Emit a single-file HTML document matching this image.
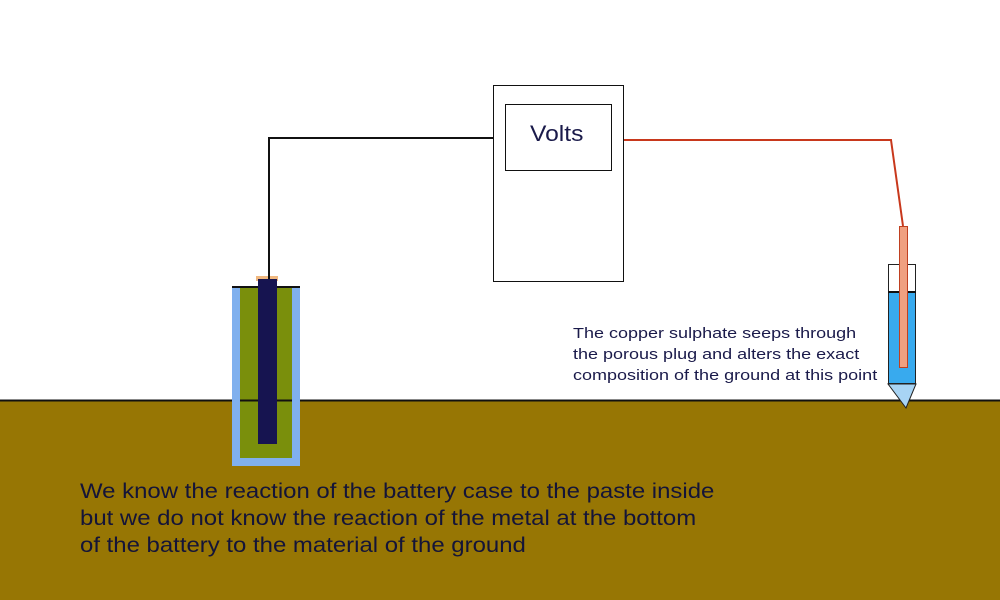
<!DOCTYPE html>
<html><head><style>
html,body{margin:0;padding:0;background:#fff}
body{width:1000px;height:600px;position:relative;overflow:hidden;font-family:"Liberation Sans",sans-serif}
.t{position:absolute;color:#1a1a4a;white-space:nowrap;transform-origin:0 0}
</style></head><body>
<svg width="1000" height="600" style="position:absolute;left:0;top:0">
<rect x="0" y="400" width="1000" height="200" fill="#977604"/>
<line x1="0" y1="400.5" x2="1000" y2="400.5" stroke="#111" stroke-width="2"/>
<rect x="232" y="287" width="68" height="179" fill="#80b0ee"/>
<rect x="240" y="287" width="52" height="171" fill="#7a8f0c"/>
<line x1="240" y1="400.5" x2="292" y2="400.5" stroke="#111" stroke-width="2"/>
<line x1="232" y1="287" x2="300" y2="287" stroke="#111" stroke-width="2"/>
<rect x="256" y="276" width="22" height="5" fill="#f0b880"/>
<rect x="258" y="279" width="19" height="165" fill="#161450"/>
<polyline points="269,279 269,138 493,138" fill="none" stroke="#111" stroke-width="2"/>
<polyline points="624,140 891,140 903,226" fill="none" stroke="#c8381c" stroke-width="2"/>
<rect x="493.5" y="85.5" width="130" height="196" fill="#fff" stroke="#111"/>
<rect x="505.5" y="104.5" width="106" height="66" fill="#fff" stroke="#111"/>
<rect x="888" y="292" width="28" height="92" fill="#38aaee"/>
<rect x="888.5" y="264.5" width="27" height="119" fill="none" stroke="#222"/>
<line x1="888" y1="292" x2="916" y2="292" stroke="#111" stroke-width="2"/>
<polygon points="888,384 916,384 906,408" fill="#a8d4f4" stroke="#222"/>
<rect x="899.5" y="226.5" width="8" height="141" fill="#f0a080" stroke="#c04020"/>
</svg>
<div class="t" style="left:530px;top:121px;font-size:22px;transform:scaleX(1.12)">Volts</div>
<div class="t" style="left:573px;top:323px;font-size:15px;line-height:21px;transform:scaleX(1.2)">The copper sulphate seeps through<br>the porous plug and alters the exact<br>composition of the ground at this point</div>
<div class="t" style="left:80px;top:478px;font-size:21px;line-height:27px;color:#141438;transform:scaleX(1.14)">We know the reaction of the battery case to the paste inside<br>but we do not know the reaction of the metal at the bottom<br>of the battery to the material of the ground</div>
</body></html>
